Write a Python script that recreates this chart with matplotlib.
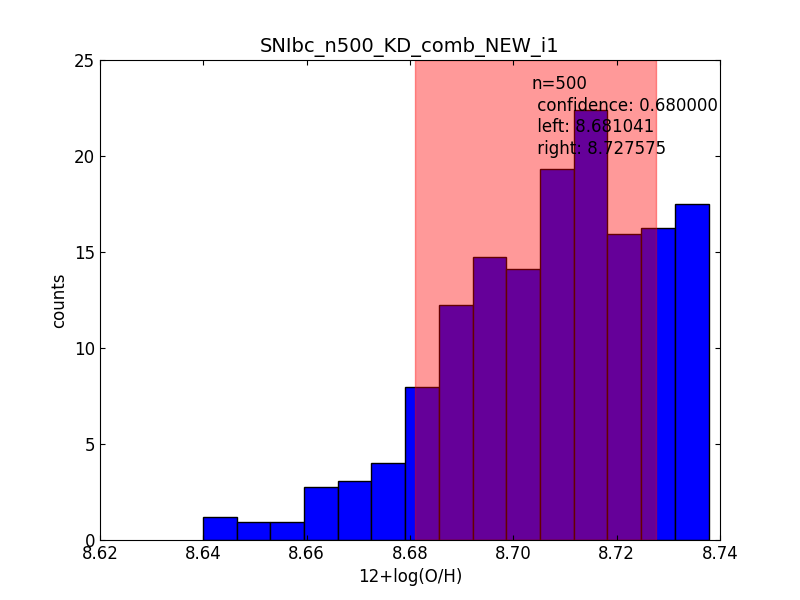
import matplotlib
matplotlib.use("Agg")
import matplotlib.pyplot as plt
import numpy as np

start = 8.6399
width = 0.006525
heights = [1.2, 0.94, 0.94, 2.76, 3.07, 4.0, 7.97, 12.24, 14.74, 14.1, 19.3, 22.4, 15.94, 16.25, 17.5]
left_ci = 8.681041
right_ci = 8.727575

fig, ax = plt.subplots(figsize=(8, 6), dpi=100)
fig.subplots_adjust(left=0.125, right=0.9, bottom=0.1, top=0.9)
lefts = start + width * np.arange(len(heights))
ax.bar(lefts, heights, width=width, align='edge', color='blue', edgecolor='black', linewidth=1)
ax.axvspan(left_ci, right_ci, color='red', alpha=0.4)
ax.set_xlim(8.62, 8.74)
ax.set_ylim(0, 25)
ax.set_xticks([8.62, 8.64, 8.66, 8.68, 8.70, 8.72, 8.74])
ax.set_xticklabels(['8.62', '8.64', '8.66', '8.68', '8.70', '8.72', '8.74'])
ax.set_yticks([0, 5, 10, 15, 20, 25])
ax.tick_params(labelsize=12, direction='in', top=True, right=True)
ax.set_xlabel('12+log(O/H)', fontsize=12)
ax.set_ylabel('counts', fontsize=12)
ax.set_title('SNIbc_n500_KD_comb_NEW_i1', fontsize=14)
ax.text(8.7036, 24.2, 'n=500\n confidence: 0.680000\n left: 8.681041\n right: 8.727575',
        fontsize=12, va='top', ha='left', linespacing=1.25)
fig.savefig('out.png', dpi=100)
